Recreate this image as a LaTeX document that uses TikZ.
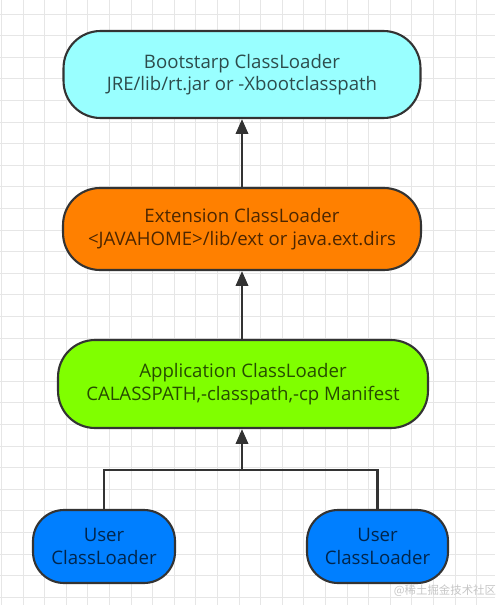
\documentclass[tikz,border=0pt]{standalone}
\usepackage{fontspec}
\setmainfont{Open Sans}
\newfontfamily\cjkfont{Noto Sans CJK SC}
\usepackage{xcolor}
\usepackage{tikz}
\usetikzlibrary{arrows.meta,positioning}

\definecolor{bootcyan}{HTML}{99FFFF}
\definecolor{extorange}{HTML}{FF8000}
\definecolor{appgreen}{HTML}{80FF00}
\definecolor{userblue}{HTML}{007FFF}
\definecolor{edgegray}{HTML}{333333}
\definecolor{gridgray}{HTML}{E6E6E6}

\begin{document}
\begin{tikzpicture}[x=0.02cm, y=-0.02cm,
    loader/.style={draw=edgegray, line width=1.2pt, rounded corners=0.74cm,
        align=center, inner sep=0pt, text=black, text opacity=0.7,
        font=\fontsize{10.6}{12.8}\selectfont},
    link/.style={draw=edgegray, line width=1.5pt},
    uparrow/.style={link, -{Triangle[width=7pt,length=8.5pt]}}]
    \useasboundingbox (0,0) rectangle (495,605);

    % Background grid
    \foreach \gx in {1.5,23.1,...,495}
        \draw[gridgray, line width=0.5pt] (\gx,0) -- (\gx,605);
    \foreach \gy in {14,35.6,...,605}
        \draw[gridgray, line width=0.5pt] (0,\gy) -- (495,\gy);

    % Class loaders
    \node (boot) at (242,74.5) [loader, fill=bootcyan,
        minimum width=7.14cm, minimum height=1.74cm]
        {Bootstarp ClassLoader\\JRE/lib/rt.jar or -Xbootclasspath};
    \node (ext) at (242,229) [loader, fill=extorange,
        minimum width=7.16cm, minimum height=1.64cm]
        {Extension ClassLoader\\<JAVAHOME>/lib/ext or java.ext.dirs};
    \node (app) at (243,384) [loader, fill=appgreen,
        minimum width=7.4cm, minimum height=1.76cm]
        {Application ClassLoader\\CALASSPATH,-classpath,-cp Manifest};
    \node (userA) at (104,546.5) [loader, fill=userblue,
        minimum width=2.84cm, minimum height=1.46cm, rounded corners=0.62cm]
        {User\\ClassLoader};
    \node (userB) at (377.5,546.5) [loader, fill=userblue,
        minimum width=2.82cm, minimum height=1.46cm, rounded corners=0.62cm]
        {User\\ClassLoader};

    % Delegation arrows
    \coordinate (join) at (242,470);
    \draw[uparrow] (ext.north -| boot.south) -- (boot.south);
    \draw[uparrow] (app.north -| ext.south) -- (ext.south);
    \draw[link] (userA.north) |- (join) -| (userB.north);
    \draw[uparrow] (join) -- (join |- app.south);

    % Watermark
    \node (mark) at (445,591) [text=gray!45, font=\cjkfont\fontsize{6.5}{7}\selectfont]
        {@稀土掘金技术社区};
\end{tikzpicture}
\end{document}
